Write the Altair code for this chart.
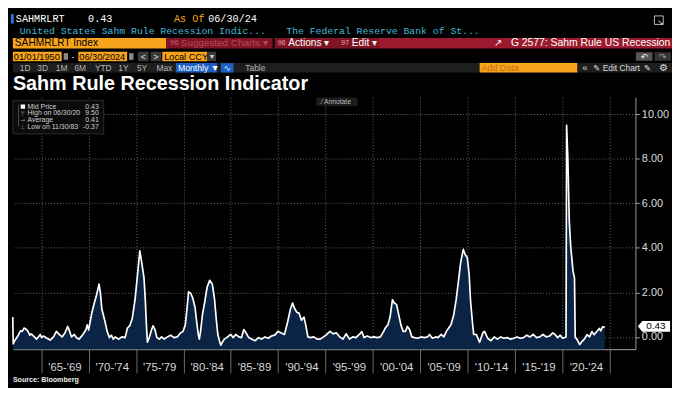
import altair as alt
import pandas as pd

# ---------------- data ----------------
seg_1960s = [(1962.00, 0.89), (1962.05, -0.31), (1962.2, -0.17), (1962.4, -0.05), (1962.55, 0.05),
             (1962.7, 0.18), (1962.85, 0.28), (1963.0, 0.25), (1963.2, 0.40), (1963.45, 0.33),
             (1963.6, 0.25), (1963.8, 0.08), (1963.95, 0.14), (1964.2, 0.04), (1964.5, -0.10),
             (1964.7, 0.00), (1964.9, 0.11), (1965.05, -0.03), (1965.25, 0.04), (1965.6, -0.06),
             (1965.95, -0.14), (1966.3, 0.00), (1966.6, 0.25), (1966.85, 0.14), (1967.2, 0.00),
             (1967.5, 0.18), (1967.8, 0.47), (1968.0, 0.25), (1968.2, 0.00), (1968.5, 0.11),
             (1968.7, -0.03), (1969.0, -0.10), (1969.4, 0.11), (1969.7, 0.31), (1969.85, 0.54)]
seg_1970s = [(1970.0, 0.31), (1970.35, 1.10), (1970.6, 1.52), (1970.8, 1.81), (1971.1, 2.37),
             (1971.25, 1.95), (1971.4, 1.24), (1971.7, 0.75), (1971.96, 0.25), (1972.2, -0.03),
             (1972.4, 0.08), (1972.6, -0.10), (1972.8, 0.00), (1973.2, -0.10), (1973.5, 0.00),
             (1973.85, -0.03), (1974.1, 0.40), (1974.35, 0.51), (1974.6, 0.82), (1974.9, 1.67),
             (1975.16, 2.80), (1975.4, 3.86), (1975.6, 3.36), (1975.84, 2.66), (1975.98, 1.67),
             (1976.1, 0.54), (1976.2, -0.24), (1976.4, -0.03), (1976.65, 0.33), (1976.8, 0.50),
             (1977.0, 0.33), (1977.2, -0.03), (1977.45, -0.10), (1977.7, 0.00), (1977.97, -0.10),
             (1978.3, 0.00), (1978.66, 0.08), (1979.0, -0.03), (1979.34, 0.00), (1979.69, 0.18),
             (1979.96, 0.25)]
seg_1980s = [(1980.2, 0.54), (1980.37, 1.24), (1980.54, 2.02), (1980.78, 1.95), (1980.99, 1.74),
             (1981.23, 1.31), (1981.4, 0.68), (1981.57, 0.11), (1981.68, -0.10), (1981.81, 0.25),
             (1982.02, 1.03), (1982.26, 1.60), (1982.5, 2.23), (1982.77, 2.54), (1983.05, 2.37),
             (1983.29, 1.67), (1983.46, 0.82), (1983.63, 0.11), (1983.8, -0.17), (1983.95, -0.37),
             (1984.1, -0.24), (1984.32, -0.10), (1984.56, -0.03), (1984.76, 0.04), (1985.0, 0.11),
             (1985.24, -0.03), (1985.52, 0.11), (1985.86, 0.00), (1986.13, -0.03), (1986.37, 0.33),
             (1986.61, 0.18), (1986.89, -0.03), (1987.23, -0.10), (1987.58, -0.17), (1987.92, -0.03),
             (1988.26, -0.10), (1988.6, 0.00), (1988.95, -0.06), (1989.29, 0.04), (1989.63, 0.08),
             (1989.98, 0.25)]
seg_1990s = [(1990.32, 0.18), (1990.66, 0.11), (1991.0, 0.68), (1991.28, 1.24), (1991.52, 1.52),
             (1991.69, 1.31), (1991.97, 1.10), (1992.2, 1.07), (1992.45, 0.75), (1992.72, 0.89),
             (1992.9, 0.54), (1993.13, 0.00), (1993.4, -0.03), (1993.75, 0.00), (1994.1, -0.10),
             (1994.43, -0.10), (1994.77, 0.00), (1995.12, 0.11), (1995.46, 0.25), (1995.8, 0.14),
             (1996.15, 0.18), (1996.49, 0.00), (1996.83, -0.10), (1997.17, 0.14), (1997.52, -0.10),
             (1997.86, 0.00), (1998.2, -0.03), (1998.55, 0.11), (1998.82, 0.24), (1999.06, -0.03),
             (1999.4, 0.04), (1999.75, -0.03)]
seg_2000s = [(2000.09, 0.00), (2000.43, -0.03), (2000.78, 0.00), (2001.12, 0.25), (2001.29, 0.40),
             (2001.57, 0.54), (2001.8, 0.89), (2002.05, 1.67), (2002.25, 1.52), (2002.49, 1.45),
             (2002.66, 1.10), (2002.94, 0.54), (2003.18, 0.25), (2003.42, 0.25), (2003.62, 0.47),
             (2003.86, 0.33), (2004.1, 0.00), (2004.38, -0.03), (2004.72, -0.06), (2005.06, 0.00),
             (2005.41, -0.03), (2005.75, 0.00), (2005.96, 0.11), (2006.26, -0.06), (2006.61, 0.00),
             (2006.85, -0.03), (2007.19, 0.11), (2007.47, 0.00), (2007.74, 0.25), (2007.98, 0.40),
             (2008.22, 0.55), (2008.5, 0.96), (2008.77, 1.67), (2009.01, 2.50), (2009.25, 3.36),
             (2009.52, 3.93), (2009.7, 3.71), (2009.94, 3.57)]
seg_2010s = [(2010.14, 2.80), (2010.28, 1.67), (2010.48, 0.68), (2010.62, 0.11), (2010.9, 0.11),
             (2011.24, -0.24), (2011.58, 0.18), (2011.76, 0.25), (2012.1, -0.06), (2012.44, -0.17),
             (2012.78, 0.00), (2013.13, -0.10), (2013.47, 0.00), (2013.81, -0.06), (2014.16, -0.03),
             (2014.5, -0.10), (2014.84, -0.06), (2015.19, 0.00), (2015.53, -0.06), (2015.87, -0.03),
             (2016.22, 0.08), (2016.56, 0.00), (2016.9, 0.11), (2017.25, -0.03), (2017.59, 0.00),
             (2017.93, 0.11), (2018.27, 0.00), (2018.62, 0.04), (2018.96, 0.18), (2019.2, 0.11),
             (2019.47, -0.03), (2019.75, 0.08), (2019.99, -0.06)]
seg_2020s = [(2020.2, -0.03), (2020.36, 0.00), (2020.42, 9.50), (2020.55, 8.02), (2020.7, 5.20),
             (2020.85, 4.07), (2021.1, 2.94), (2021.25, 2.65), (2021.33, -0.02), (2021.5, -0.10),
             (2021.8, -0.34), (2022.05, -0.20), (2022.29, -0.10), (2022.57, 0.10), (2022.84, 0.00),
             (2023.08, 0.24), (2023.32, 0.10), (2023.6, 0.24), (2023.87, 0.38), (2024.01, 0.27),
             (2024.21, 0.45), (2024.45, 0.43)]

period_bounds = [1965, 1970, 1975, 1980, 1985, 1990, 1995, 2000, 2005, 2010, 2015, 2020, 2025]
period_centers = [1967.5, 1972.5, 1977.5, 1982.5, 1987.5, 1992.5, 1997.5, 2002.5, 2007.5,
                  2012.5, 2017.5, 2022.5]
period_labels = ["'65-'69", "'70-'74", "'75-'79", "'80-'84", "'85-'89", "'90-'94", "'95-'99",
                 "'00-'04", "'05-'09", "'10-'14", "'15-'19", "'20-'24"]
y_ticks = [0, 1, 2, 3, 4, 5, 6, 7, 8, 9, 10]
last_value = 0.43
stat_names = ["Mid Price", "High on 06/30/20", "Average", "Low on 11/30/83"]
stat_values = ["0.43", "9.50", "0.41", "-0.37"]

# ---------------- layout ----------------
W_TOTAL, H_TOTAL = 672, 380
SX, SY = W_TOTAL / 680.0, H_TOTAL / 398.0
PAD_L, PAD_T = 5, 88
WIDTH, HEIGHT = 630, 255
PAD_R = W_TOTAL - PAD_L - WIDTH
PAD_B = H_TOTAL - PAD_T - HEIGHT
X_DOMAIN = [1962.02, 2027.68]
Y_DOMAIN = [-0.55, 10.76]


def px(rx):
    return rx * SX - PAD_L


def py(ry):
    return ry * SY - PAD_T


ONE = alt.Data(values=[{"a": 1}])
SANS = "Liberation Sans"
MONO = "Liberation Mono"
ORANGE = "#f7a31c"
GRID = "#6a6a6a"


def txt(s, rx, ry, color="#ffffff", size=10, weight="normal", font=SANS, align="left",
        baseline="middle"):
    return alt.Chart(ONE).mark_text(text=s, color=color, fontSize=size, fontWeight=weight,
                                    font=font, align=align, baseline=baseline).encode(
        x=alt.value(px(rx)), y=alt.value(py(ry)))


def box(rx1, ry1, rx2, ry2, fill, stroke=None):
    kw = {"fill": fill}
    if stroke:
        kw.update(stroke=stroke, strokeWidth=1)
    return alt.Chart(ONE).mark_rect(**kw).encode(
        x=alt.value(px(rx1)), x2=alt.value(px(rx2)), y=alt.value(py(ry1)), y2=alt.value(py(ry2)))


# ---------------- series ----------------
pairs = seg_1960s + seg_1970s + seg_1980s + seg_1990s + seg_2000s + seg_2010s + seg_2020s
df = pd.DataFrame(pairs, columns=["year", "value"])

xscale = alt.Scale(domain=X_DOMAIN, nice=False, zero=False)
yscale = alt.Scale(domain=Y_DOMAIN, nice=False, zero=False)

x_axis = alt.Axis(values=period_bounds, labels=False, grid=True, gridDash=[1, 2],
                  gridColor=GRID, tickSize=24, tickColor="#6e6e6e", domainColor="#a8a8a8",
                  title=None, orient="bottom")
y_axis = alt.Axis(orient="right", values=y_ticks,
                  labelExpr="datum.value % 2 == 0 ? format(datum.value, '.2f') : ''",
                  grid=True, gridDash=[1, 2], gridColor=GRID, tickSize=4, tickColor="#9a9a9a",
                  tickOpacity={"condition": {"test": "datum.value % 2 != 0", "value": 0}, "value": 1},
                  domainColor="#9a9a9a", labelColor="#dcdcdc", labelFontSize=11, labelFont=SANS,
                  labelPadding=2, title=None)

area = alt.Chart(df).mark_area(color="#0b2445", opacity=1).encode(
    x=alt.X("year:Q", scale=xscale, axis=x_axis),
    y=alt.Y("value:Q", scale=yscale, axis=y_axis),
    y2=alt.datum(Y_DOMAIN[0]))
line = alt.Chart(df).mark_line(color="#ffffff", strokeWidth=1.7, strokeJoin="round").encode(
    x=alt.X("year:Q", scale=xscale), y=alt.Y("value:Q", scale=yscale))

tag_shape = "M-1,0L-0.72,-0.34L1,-0.34L1,0.34L-0.72,0.34Z"
tag = alt.Chart(ONE).mark_point(shape=tag_shape, filled=True, color="#ffffff", opacity=1,
                                size=1063, yOffset=-1).encode(
    x=alt.value(px(661.5)), y=alt.Y(datum=last_value, scale=yscale))
tag_text = alt.Chart(ONE).mark_text(text=f"{last_value:.2f}", color="#000000", fontSize=10,
                                    font=SANS, align="center", baseline="middle", dy=-1).encode(
    x=alt.value(px(663.5)), y=alt.Y(datum=last_value, scale=yscale))

lab_df = pd.DataFrame({"c": period_centers, "lab": period_labels})
period_text = alt.Chart(lab_df).mark_text(color="#d8d8d8", fontSize=11.5, font=SANS,
                                          baseline="middle").encode(
    x=alt.X("c:Q", scale=xscale), y=alt.value(py(379)), text="lab:N")

# ---------------- terminal chrome ----------------
chrome = [
    # row 1
    box(3, 4, 6, 14, "#2f6fd8"),
    txt("SAHMRLRT", 8, 9, "#ffffff", 10.3, font=MONO),
    txt("0.43", 82, 9, "#ffffff", 10.3, font=MONO),
    txt("As Of", 170, 9, ORANGE, 10.3, font=MONO),
    txt("06/30/24", 205, 9, "#ffffff", 10.3, font=MONO),
    box(662, 6, 671, 15, "#000000", stroke="#bbbbbb"),
    txt("↘", 668, 13, "#dddddd", 8, align="center"),
    # row 2
    txt("United States Sahm Rule Recession Indic...", 12, 21.5, "#46b8d6", 9.9, font=MONO),
    txt("The Federal Reserve Bank of St...", 285, 21.5, "#46b8d6", 9.9, font=MONO),
    # row 3
    box(5, 29.5, 162, 40.5, ORANGE),
    txt("SAHMRLRT Index", 7, 35.2, "#000000", 10.3),
    box(162, 29.5, 380, 40.5, "#7e1424"),
    box(380, 29.5, 680, 40.5, "#9c1a2d"),
    box(271, 29.5, 273, 40.5, "#000000"),
    txt("96", 166, 35.2, "#c06070", 7.5),
    txt("Suggested Charts ▾", 177, 35.2, "#b8485e", 10),
    txt("96", 276, 35.2, "#e0a0aa", 7.5),
    txt("Actions ▾", 287, 35.2, "#ffffff", 10.3),
    txt("97", 341, 35.2, "#e0a0aa", 7.5),
    txt("Edit ▾", 352, 35.2, "#ffffff", 10.3),
    txt("↗", 502, 35.2, "#ffffff", 10, font="DejaVu Sans", align="center"),
    txt("G 2577: Sahm Rule US Recession", 515, 35.2, "#ffffff", 10.5),
    # row 4
    box(5, 44, 55, 54, ORANGE),
    txt("01/01/1950", 6, 49.2, "#000000", 9.3),
    box(57, 45.5, 61.5, 52.5, "#8a8a8a"),
    txt("-", 65, 49.2, "#dddddd", 9),
    box(72, 44, 122, 54, ORANGE),
    txt("06/30/2024", 73, 49.2, "#000000", 9.3),
    box(124, 45.5, 128.5, 52.5, "#8a8a8a"),
    box(133, 44, 144, 54, "#3a3a3a"),
    txt("<", 138.5, 49.2, "#dddddd", 9, align="center"),
    box(146, 44, 157, 54, "#3a3a3a"),
    txt(">", 151.5, 49.2, "#dddddd", 9, align="center"),
    box(158, 44, 204, 54, ORANGE),
    txt("Local CCY", 160, 49.2, "#000000", 9.3),
    box(204, 44, 213, 54, "#3a3a3a"),
    txt("▾", 208.5, 49.2, "#dddddd", 8, align="center"),
    box(643, 44.5, 660, 53.5, "#555555"),
    txt("↶", 651.5, 49.2, "#eeeeee", 9, font="DejaVu Sans", align="center"),
    box(662, 44.5, 679, 53.5, "#333333"),
    txt("↷", 670.5, 49.2, "#999999", 9, font="DejaVu Sans", align="center"),
    # row 5
    box(5, 56, 680, 66, "#1e1e1e"),
    txt("1D", 12, 61.2, "#b5b5b5", 8.5),
    txt("3D", 30, 61.2, "#b5b5b5", 8.5),
    txt("1M", 49, 61.2, "#b5b5b5", 8.5),
    txt("6M", 68, 61.2, "#b5b5b5", 8.5),
    txt("YTD", 89, 61.2, "#b5b5b5", 8.5),
    txt("1Y", 113, 61.2, "#b5b5b5", 8.5),
    txt("5Y", 132, 61.2, "#b5b5b5", 8.5),
    txt("Max", 152, 61.2, "#b5b5b5", 8.5),
    box(172, 56, 214, 66, "#1d5fc4"),
    txt("Monthly ▼", 174, 61.2, "#ffffff", 8.8),
    box(218, 56, 231, 66, "#1d5fc4"),
    txt("∿", 224.5, 61.2, "#d0e0ff", 9, font="DejaVu Sans", align="center"),
    txt("Table", 243, 61.2, "#b5b5b5", 8.5),
    box(483, 56, 583, 66, ORANGE),
    txt("Add Data", 485, 61.2, "#c0701a", 9),
    txt("«", 588, 61.2, "#dddddd", 9.5),
    txt("✎", 599, 61.2, "#dddddd", 8.5, font="DejaVu Sans"),
    txt("Edit Chart", 609, 61.2, "#dddddd", 8.5),
    txt("✎", 651, 61.2, "#dddddd", 8.5, font="DejaVu Sans"),
    txt("⚙", 667, 61.2, "#dddddd", 10, font="DejaVu Sans"),
    # title
    txt("Sahm Rule Recession Indicator", 5, 85, "#ffffff", 20, weight="bold",
        baseline="alphabetic"),
    # legend panel
    box(5, 95.5, 98, 131, "#0c0c0c", stroke="#2c2c2c"),
    box(10.5, 100, 11.3, 123, "#555555"),
    box(13, 100, 17.5, 104.5, "#ffffff"),
    txt("⊤", 15, 109.5, "#999999", 6, font="DejaVu Sans", align="center"),
    txt("→", 15, 116.5, "#999999", 6, font="DejaVu Sans", align="center"),
    txt("⊥", 15, 123.5, "#999999", 6, font="DejaVu Sans", align="center"),
]
for i, (nm, vv) in enumerate(zip(stat_names, stat_values)):
    ry = 102.3 + i * 7.1
    chrome.append(txt(nm, 20, ry, "#cfcfcf", 7))
    chrome.append(txt(vv, 93, ry, "#cfcfcf", 7, align="right"))

chrome += [
    box(316, 92.5, 358, 101.5, "#1c1c1c"),
    txt("⁄ Annotate", 321, 97.2, "#bbbbbb", 6.8),
    txt("Source:  Bloomberg", 5, 391.5, "#eeeeee", 7.2, weight="bold"),
]

chart = alt.layer(area, line, tag, tag_text, period_text, *chrome).properties(
    width=WIDTH, height=HEIGHT,
    autosize=alt.AutoSizeParams(type="none"),
    padding={"left": PAD_L, "top": PAD_T, "right": PAD_R, "bottom": PAD_B},
).configure(background="#000000").configure_view(strokeWidth=0)

chart.save("out.html", embed_options={"renderer": "svg", "actions": False})
